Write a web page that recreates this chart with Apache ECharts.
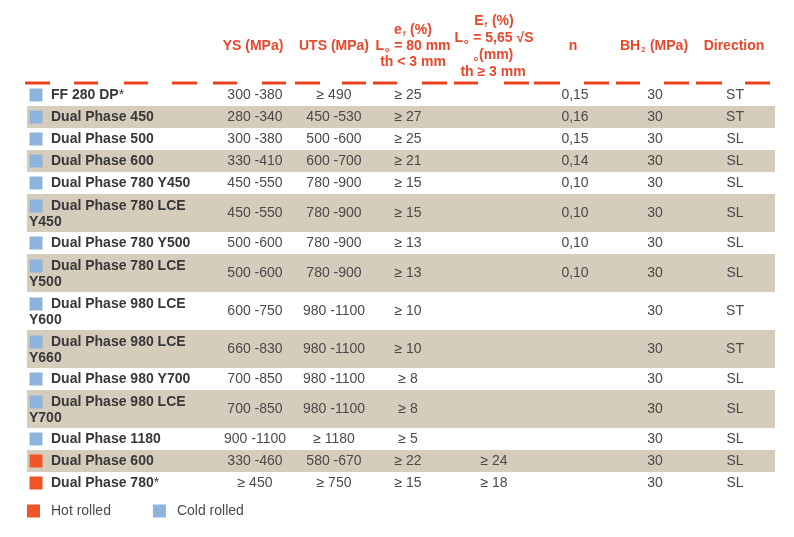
<!DOCTYPE html>
<html><head><meta charset="utf-8">
<script src="https://cdn.jsdelivr.net/npm/echarts@6/dist/echarts.min.js"></script>
<style>html,body{margin:0;padding:0;background:#fff}#c{width:794px;height:537px}</style>
</head><body><div id="c"></div>
<script>
// ---------- DATA ----------
const grades = ['FF 280 DP*','Dual Phase 450','Dual Phase 500','Dual Phase 600','Dual Phase 780 Y450',
  'Dual Phase 780 LCE\nY450','Dual Phase 780 Y500','Dual Phase 780 LCE\nY500','Dual Phase 980 LCE\nY600',
  'Dual Phase 980 LCE\nY660','Dual Phase 980 Y700','Dual Phase 980 LCE\nY700','Dual Phase 1180',
  'Dual Phase 600','Dual Phase 780*'];
const rolling = ['Cold','Cold','Cold','Cold','Cold','Cold','Cold','Cold','Cold','Cold','Cold','Cold','Cold','Hot','Hot'];
const ysMPa = ['300 -380','280 -340','300 -380','330 -410','450 -550','450 -550','500 -600','500 -600',
  '600 -750','660 -830','700 -850','700 -850','900 -1100','330 -460','≥ 450'];
const utsMPa = ['≥ 490','450 -530','500 -600','600 -700','780 -900','780 -900','780 -900','780 -900',
  '980 -1100','980 -1100','980 -1100','980 -1100','≥ 1180','580 -670','≥ 750'];
const elongThin = ['≥ 25','≥ 27','≥ 25','≥ 21','≥ 15','≥ 15','≥ 13','≥ 13','≥ 10','≥ 10','≥ 8','≥ 8','≥ 5','≥ 22','≥ 15'];
const elongThick = ['','','','','','','','','','','','','','≥ 24','≥ 18'];
const nValue = ['0,15','0,16','0,15','0,14','0,10','0,10','0,10','0,10','','','','','','',''];
const bh2MPa = [30,30,30,30,30,30,30,30,30,30,30,30,30,30,30];
const direction = ['ST','ST','SL','SL','SL','SL','SL','SL','ST','ST','SL','SL','SL','SL','SL'];
const legendLabels = {Hot:'Hot rolled', Cold:'Cold rolled'};

// ---------- LAYOUT / STYLE ----------
const FONT = '"Liberation Sans", Arial, sans-serif';
const RED = '#e8472c', BAND = '#d5ccbb', BLUE = '#8cb4dc', ORANGE = '#f0552a';
const NAME_C = '#383838', VAL_C = '#4a4a4a';
const TABLE_TOP = 84, ROW_H = 22, EXTRA_LINE = 16;
const COL = {left:27, right:775, square:36, name1:51, name2:29, ys:255, uts:334, ef:408, Ef:494, n:575, bh:655, dir:735};

const rowTop = [], rowH = [];
(function(){ let acc = TABLE_TOP; grades.forEach(g => { const k = g.split('\n').length; rowTop.push(acc); const h = ROW_H + EXTRA_LINE*(k-1); rowH.push(h); acc += h; }); })();
const firstLineY = i => rowTop[i] + (rowH[i] > ROW_H ? 12 : 11);

function nameText(s){
  if (s.endsWith('*')) return '{b|' + s.slice(0,-1) + '}{r|*}';
  return '{b|' + s + '}';
}
const nameRich = { b:{fontFamily:FONT, fontSize:14, fontWeight:'bold', fill:NAME_C, color:NAME_C},
                   r:{fontFamily:FONT, fontSize:14, fontWeight:'normal', fill:NAME_C, color:NAME_C} };

function rowsRender(params, api){
  const i = api.value(4);
  const p0 = api.coord([api.value(0), api.value(1)]);
  const p1 = api.coord([api.value(2), api.value(3)]);
  const children = [];
  if (i % 2 === 1) children.push({type:'rect', shape:{x:p0[0], y:p0[1], width:p1[0]-p0[0], height:p1[1]-p0[1]}, style:{fill:BAND}});
  const lines = grades[i].split('\n');
  const c1 = api.coord([COL.name1, firstLineY(i)]);
  children.push({type:'text', style:{x:c1[0], y:c1[1], text:nameText(lines[0]), rich:nameRich, align:'left', verticalAlign:'middle'}});
  if (lines[1]) {
    const c2 = api.coord([COL.name2, firstLineY(i) + EXTRA_LINE]);
    children.push({type:'text', style:{x:c2[0], y:c2[1], text:nameText(lines[1]), rich:nameRich, align:'left', verticalAlign:'middle'}});
  }
  const mid = rowTop[i] + rowH[i]/2;
  const vals = [[COL.ys, ysMPa[i]],[COL.uts, utsMPa[i]],[COL.ef, elongThin[i]],[COL.Ef, elongThick[i]],
                [COL.n, nValue[i]],[COL.bh, String(bh2MPa[i])],[COL.dir, direction[i]]];
  vals.forEach(([x,t]) => {
    if (!t) return;
    const c = api.coord([x, mid]);
    children.push({type:'text', style:{x:c[0], y:c[1]+0.5, text:t, fill:VAL_C, font:'14px ' + FONT, align:'center', verticalAlign:'middle'}});
  });
  return {type:'group', children};
}

function squareSeries(type, color){
  const idx = grades.map((g,i)=>i).filter(i => rolling[i] === type);
  return {
    type:'custom', name:legendLabels[type], coordinateSystem:'cartesian2d', z:5,
    itemStyle:{color},
    encode:{x:0, y:1},
    data: idx.map(i => [COL.square, firstLineY(i)]),
    renderItem(params, api){
      const c = api.coord([api.value(0), api.value(1)]);
      return {type:'rect', shape:{x:c[0]-6.5, y:c[1]-6.5, width:13, height:13}, style:{fill:color}};
    }
  };
}

// header
const hb = {fontFamily:FONT, fontSize:14, fontWeight:'bold', fill:RED, color:RED, lineHeight:16};
const hs = {fontFamily:FONT, fontSize:7, fontWeight:'bold', fill:RED, color:RED, lineHeight:16, verticalAlign:'bottom', padding:[0,1,0,1]};
const headerRich = {m:hb, s:hs};
function hText(x, y, text){
  return {type:'text', x, y, silent:true, style:{text, rich:headerRich, align:'center', verticalAlign:'middle'}};
}
const headerItems = [
  hText(253, 46, '{m|YS (MPa)}'),
  hText(334, 46, '{m|UTS (MPa)}'),
  hText(413, 30, '{m|e}{s|f}{m| (%)}'),
  hText(413, 46, '{m|L}{s|o}{m| = 80 mm}'),
  hText(413, 62, '{m|th < 3 mm}'),
  hText(494, 21, '{m|E}{s|f}{m| (%)}'),
  hText(494, 38, '{m|L}{s|o}{m| = 5,65 √S}'),
  hText(493, 55, '{s|o}{m|(mm)}'),
  hText(493, 72, '{m|th ≥ 3 mm}'),
  hText(573, 46, '{m|n}'),
  hText(654, 46, '{m|BH}{s|2}{m| (MPa)}'),
  hText(734, 46, '{m|Direction}')
];
const dashLine = {type:'line', silent:true, shape:{x1:25, y1:83, x2:770, y2:83},
  style:{stroke:'#e8431f', lineWidth:3, lineCap:'butt',
    lineDash:[25,24,24,26,24,24,25,16,24,25,24,9,25,22,24,7,24,25,25,7,24,26,25,5,26,24,25,7,24,24,25,7,26,23,25]}};

const chart = echarts.init(document.getElementById('c'), null, {renderer:'canvas'});
chart.setOption({
  animation:false,
  backgroundColor:'#ffffff',
  grid:{left:0, right:0, top:0, bottom:0},
  xAxis:{type:'value', min:0, max:794, show:false},
  yAxis:{type:'value', min:0, max:537, inverse:true, show:false},
  legend:{
    data:[legendLabels.Hot, legendLabels.Cold], left:27, top:504, padding:0,
    icon:'rect', itemWidth:13, itemHeight:13, itemGap:42, selectedMode:false,
    textStyle:{fontFamily:FONT, fontSize:14, color:VAL_C, padding:[0,0,0,6]}
  },
  graphic:[dashLine].concat(headerItems),
  series:[
    { type:'custom', name:'rows', coordinateSystem:'cartesian2d', z:2,
      encode:{x:[0,2], y:[1,3]},
      data: grades.map((g,i) => [COL.left, rowTop[i], COL.right, rowTop[i]+rowH[i], i]),
      renderItem: rowsRender },
    squareSeries('Hot', ORANGE),
    squareSeries('Cold', BLUE)
  ]
});
</script></body></html>
